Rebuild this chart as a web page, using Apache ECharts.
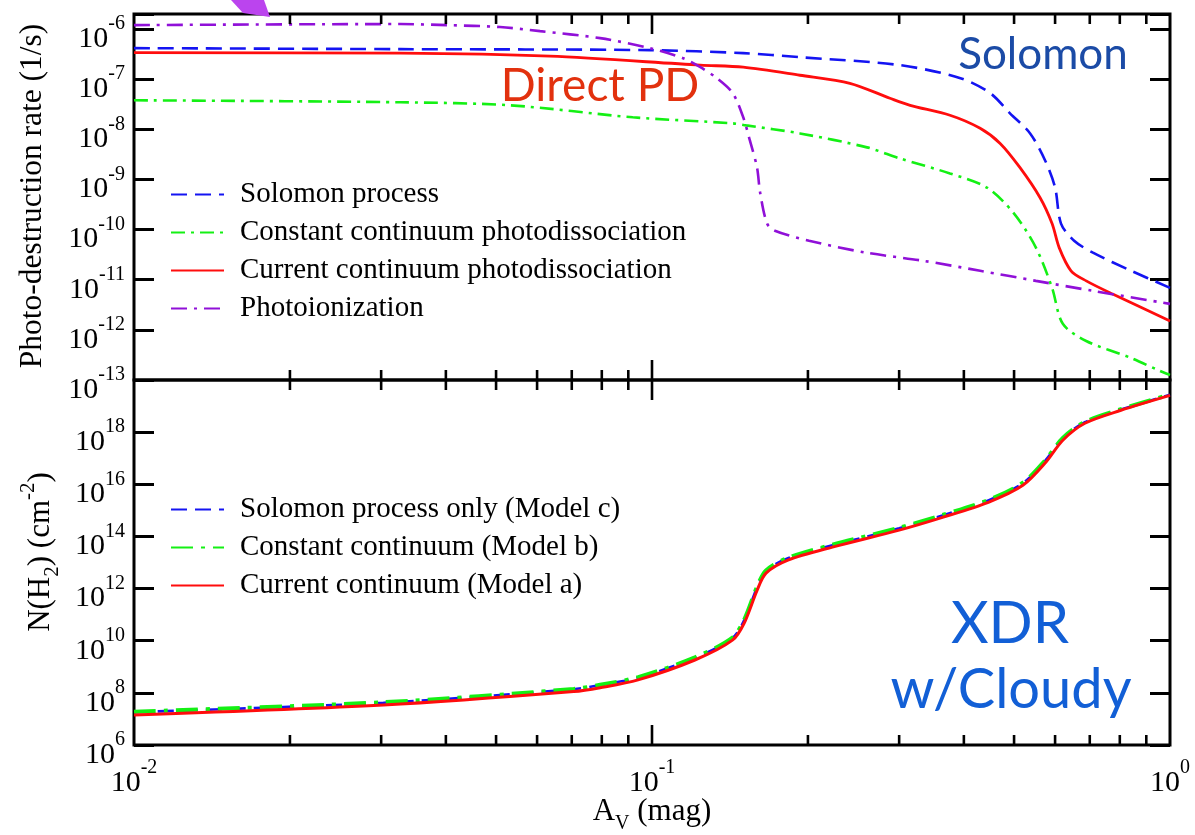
<!DOCTYPE html>
<html><head><meta charset="utf-8">
<script src="https://cdn.jsdelivr.net/npm/echarts@6/dist/echarts.min.js"></script>
<style>html,body{margin:0;padding:0;background:#fff}#c{width:1195px;height:835px}</style>
</head><body><div id="c"></div>
<script>
// ---------- top panel: photo-destruction rates (1/s) vs A_V (mag) ----------
const solomonAv  = [0.01, 0.0327, 0.099, 0.15, 0.193, 0.301, 0.394, 0.45, 0.491, 0.537, 0.574, 0.60, 0.616, 0.653, 0.71, 0.841, 1.0];
const solomonRate= [4.17e-7, 3.98e-7, 3.8e-7, 3.31e-7, 2.75e-7, 1.91e-7, 1.05e-7, 5.25e-8, 2.09e-8, 8.3e-9, 2.4e-9, 6.9e-10, 1.32e-10, 6.0e-11, 3.47e-11, 1.51e-11, 6.9e-12];

const constAv   = [0.01, 0.0327, 0.0532, 0.0918, 0.143, 0.152, 0.193, 0.26, 0.301, 0.376, 0.443, 0.50, 0.551, 0.592, 0.621, 0.689, 0.841, 0.957, 1.0];
const constRate = [3.8e-8, 3.47e-8, 3.02e-8, 1.74e-8, 1.32e-8, 1.2e-8, 8.3e-9, 4.37e-9, 2.63e-9, 1.32e-9, 6.9e-10, 2.09e-10, 4.37e-11, 6.9e-12, 1.32e-12, 6.0e-13, 2.75e-13, 1.51e-13, 1.26e-13];

const currAv    = [0.01, 0.0327, 0.0635, 0.124, 0.15, 0.193, 0.241, 0.288, 0.315, 0.376, 0.43, 0.47, 0.513, 0.561, 0.592, 0.611, 0.644, 0.689, 0.773, 1.0];
const currRate  = [3.39e-7, 3.31e-7, 2.88e-7, 1.91e-7, 1.74e-7, 1.2e-7, 8.3e-8, 4.17e-8, 3.02e-8, 1.91e-8, 1.05e-8, 5.25e-9, 1.74e-9, 4.37e-10, 1.32e-10, 4.37e-11, 1.51e-11, 9.5e-12, 5.25e-12, 1.51e-12];

const ionAv     = [0.01, 0.0327, 0.0402, 0.0509, 0.0608, 0.0794, 0.099, 0.1148, 0.124, 0.1334, 0.1432, 0.150, 0.1545, 0.1595, 0.1617, 0.1668, 0.1727, 0.201, 0.259, 0.333, 0.43, 0.551, 0.71, 1.0];
const ionRate   = [1.2e-6, 1.26e-6, 1.2e-6, 1.1e-6, 9.1e-7, 6.6e-7, 4.17e-7, 2.63e-7, 1.74e-7, 1.05e-7, 5.25e-8, 1.74e-8, 6.0e-9, 1.74e-9, 5.5e-10, 1.32e-10, 9.5e-11, 6.0e-11, 3.47e-11, 2.4e-11, 1.51e-11, 9.5e-12, 6.0e-12, 3.3e-12];

// ---------- bottom panel: N(H2) column density (cm^-2) vs A_V ----------
const colAv     = [0.01, 0.0303, 0.0706, 0.0794, 0.094, 0.121, 0.143, 0.1506, 0.1596, 0.166, 0.183, 0.223, 0.30, 0.365, 0.446, 0.52, 0.574, 0.621, 0.685, 0.804, 1.0];
const colModelC = [1.82e7, 4.17e7, 1.38e8, 2.0e8, 3.8e8, 2.19e9, 1.26e10, 6.0e10, 1.12e12, 4.8e12, 1.45e13, 4.57e13, 2.04e14, 6.5e14, 2.4e15, 1.1e16, 7.9e16, 5.75e17, 2.4e18, 7.4e18, 2.69e19];
const colModelB = [1.9e7, 4.37e7, 1.41e8, 2.04e8, 3.98e8, 2.29e9, 1.32e10, 6.3e10, 1.2e12, 5.0e12, 1.51e13, 4.8e13, 2.14e14, 6.8e14, 2.51e15, 1.15e16, 8.3e16, 6.0e17, 2.45e18, 7.6e18, 2.75e19];
const colModelA = [1.41e7, 3.39e7, 1.12e8, 1.58e8, 3.16e8, 1.82e9, 1.05e10, 4.68e10, 8.7e11, 3.89e12, 1.23e13, 3.89e13, 1.74e14, 5.5e14, 2.04e15, 9.1e15, 6.5e16, 4.9e17, 2.19e18, 6.9e18, 2.57e19];

// ---------- axes ----------
const xMinorTicks = [0.02,0.03,0.04,0.05,0.06,0.07,0.08,0.09,0.2,0.3,0.4,0.5,0.6,0.7,0.8,0.9];
const xMajorTicks = [0.1];
const topRange = [1e-13, 2e-6];
const botRange = [1e6, 1e20];

const legendTop = ['Solomon process','Constant continuum photodissociation','Current continuum photodissociation','Photoionization'];
const legendBot = ['Solomon process only (Model c)','Constant continuum (Model b)','Current continuum (Model a)'];

const SERIF = 'Liberation Serif, Times New Roman, serif';
const SANS = 'Lato, Open Sans, sans-serif';
const BLUE = '#1414f2', GREEN = '#14f014', RED = '#ff0d0d', PURPLE = '#9010d8';

const zip = (a, b) => a.map((v, i) => [v, b[i]]);
const richSup = {
  b: {fontFamily: SERIF, fontSize: 30, lineHeight: 30, padding: [10,0,0,0], verticalAlign: 'top', color: '#000'},
  s: {fontFamily: SERIF, fontSize: 20, lineHeight: 20, verticalAlign: 'top', color: '#000'}
};
function powLabel(v) {
  const e = Math.log10(v);
  const r = Math.round(e);
  if (Math.abs(e - r) > 1e-6) return '';
  return '{b|10}{s|' + r + '}';
}
const tickLine = {color: '#000', width: 3};

function yAxis(grid, range, base, pos, labels) {
  return {
    type: 'log', logBase: base, gridIndex: grid, position: pos, min: range[0], max: range[1],
    interval: 1,
    axisLine: {show: false}, splitLine: {show: false}, minorTick: {show: false},
    axisTick: {show: true, inside: true, length: 20, lineStyle: tickLine},
    axisLabel: labels ? {show: true, formatter: powLabel, rich: richSup, margin: 9, showMaxLabel: grid === 0} : {show: false}
  };
}

function tickSeries(gi, yMin) {
  const all = xMinorTicks.concat(xMajorTicks);
  return {
    type: 'custom', xAxisIndex: gi, yAxisIndex: gi * 2, silent: true, z: 20, clip: false,
    data: all.map(v => [v, yMin]), encode: {x: 0, y: 1},
    renderItem(params, api) {
      const v = api.value(0);
      const cs = params.coordSys;
      const px = api.coord([v, yMin])[0];
      const len = xMajorTicks.indexOf(v) >= 0 ? 20 : 10;
      const st = {stroke: '#000', lineWidth: 2.6};
      return {type: 'group', children: [
        {type: 'line', shape: {x1: px, y1: cs.y, x2: px, y2: cs.y + len}, style: st},
        {type: 'line', shape: {x1: px, y1: cs.y + cs.height, x2: px, y2: cs.y + cs.height - len}, style: st}
      ]};
    }
  };
}

function lineSeries(name, gi, x, y, color, width, type, z) {
  return {
    name, type: 'line', xAxisIndex: gi, yAxisIndex: gi * 2, data: zip(x, y),
    symbol: 'none', smooth: 0.3, z: z,
    lineStyle: {color, width, type}, itemStyle: {color}
  };
}

const legendText = {fontFamily: SERIF, fontSize: 29, lineHeight: 28, color: '#000', padding: [0,0,0,11]};
const legendCommon = {orient: 'vertical', left: 165, itemWidth: 53, itemHeight: 14, itemGap: 9, selectedMode: false,
  textStyle: legendText, itemStyle: {color: 'transparent', borderColor: 'transparent', borderWidth: 0, opacity: 0}};

const option = {
  backgroundColor: '#fff',
  animation: false,
  grid: [
    {left: 134, top: 14, width: 1036, height: 366, show: true, borderColor: '#000', borderWidth: 3, backgroundColor: 'transparent'},
    {left: 134, top: 380, width: 1036, height: 365, show: true, borderColor: '#000', borderWidth: 3, backgroundColor: 'transparent'}
  ],
  xAxis: [
    {type: 'log', gridIndex: 0, min: 0.01, max: 1, axisLine: {show: false}, axisTick: {show: false}, axisLabel: {show: false}, splitLine: {show: false}},
    {type: 'log', gridIndex: 1, min: 0.01, max: 1, axisLine: {show: false}, axisTick: {show: false}, splitLine: {show: false},
     axisLabel: {show: true, formatter: powLabel, rich: richSup, margin: 13}}
  ],
  yAxis: [
    yAxis(0, topRange, 10, 'left', true),
    yAxis(0, topRange, 10, 'right', false),
    yAxis(1, botRange, 100, 'left', true),
    yAxis(1, botRange, 100, 'right', false)
  ],
  legend: [
    Object.assign({data: legendTop, top: 175}, legendCommon),
    Object.assign({data: legendBot, top: 490}, legendCommon)
  ],
  series: [
    lineSeries(legendTop[0], 0, solomonAv, solomonRate, BLUE, 2.6, [16, 8], 3),
    lineSeries(legendTop[1], 0, constAv, constRate, GREEN, 2.6, [14, 6, 3, 6], 3),
    lineSeries(legendTop[2], 0, currAv, currRate, RED, 2.8, 'solid', 4),
    lineSeries(legendTop[3], 0, ionAv, ionRate, PURPLE, 2.6, [16, 7, 3, 7], 5),
    lineSeries(legendBot[0], 1, colAv, colModelC, BLUE, 2.6, [16, 8], 3),
    lineSeries(legendBot[1], 1, colAv, colModelB, GREEN, 4, [22, 8, 4, 8], 4),
    lineSeries(legendBot[2], 1, colAv, colModelA, RED, 3, 'solid', 5),
    tickSeries(0, topRange[0]),
    tickSeries(1, botRange[0])
  ],
  graphic: [
    {type: 'polygon', z: 100, shape: {points: [[231, 0], [264, 0], [270, 17], [243, 13]]}, style: {fill: '#bb44ee'}},
    {type: 'text', z: 100, x: 1043, y: 55, style: {text: 'Solomon', fontFamily: SANS, fontSize: 44, fill: '#1b4ba6', align: 'center', verticalAlign: 'middle'}},
    {type: 'text', z: 100, x: 600, y: 86, style: {text: 'Direct PD', fontFamily: SANS, fontSize: 46, fill: '#e2310e', align: 'center', verticalAlign: 'middle'}},
    {type: 'text', z: 100, x: 1010, y: 624, style: {text: 'XDR', fontFamily: SANS, fontSize: 58, fill: '#125fd6', align: 'center', verticalAlign: 'middle'}},
    {type: 'text', z: 100, x: 1011, y: 690, style: {text: 'w/Cloudy', fontFamily: SANS, fontSize: 56, fill: '#125fd6', align: 'center', verticalAlign: 'middle'}},
    {type: 'text', z: 100, x: 33, y: 196, rotation: Math.PI / 2,
     style: {text: 'Photo-destruction rate (1/s)', fontFamily: SERIF, fontSize: 31.5, fill: '#000', align: 'center', verticalAlign: 'middle'}},
    {type: 'text', z: 100, x: 33, y: 552, rotation: Math.PI / 2,
     style: {text: '{m|N(H}{d|2}{m|) (cm}{u|-2}{m|)}', align: 'center', verticalAlign: 'middle',
       rich: {
         m: {fontFamily: SERIF, fontSize: 31, lineHeight: 31, padding: [8,0,0,0], verticalAlign: 'top', color: '#000'},
         d: {fontFamily: SERIF, fontSize: 21, lineHeight: 21, padding: [24,0,0,0], verticalAlign: 'top', color: '#000'},
         u: {fontFamily: SERIF, fontSize: 21, lineHeight: 21, verticalAlign: 'top', color: '#000'}
       }}},
    {type: 'text', z: 100, x: 652, y: 812,
     style: {text: '{m|A}{d|V}{m| (mag)}', align: 'center', verticalAlign: 'middle',
       rich: {
         m: {fontFamily: SERIF, fontSize: 31, lineHeight: 31, verticalAlign: 'top', color: '#000'},
         d: {fontFamily: SERIF, fontSize: 20, lineHeight: 20, padding: [17,0,0,0], verticalAlign: 'top', color: '#000'}
       }}}
  ]
};
const chart = echarts.init(document.getElementById('c'), null, {renderer: 'canvas'});
chart.setOption(option);
</script></body></html>
